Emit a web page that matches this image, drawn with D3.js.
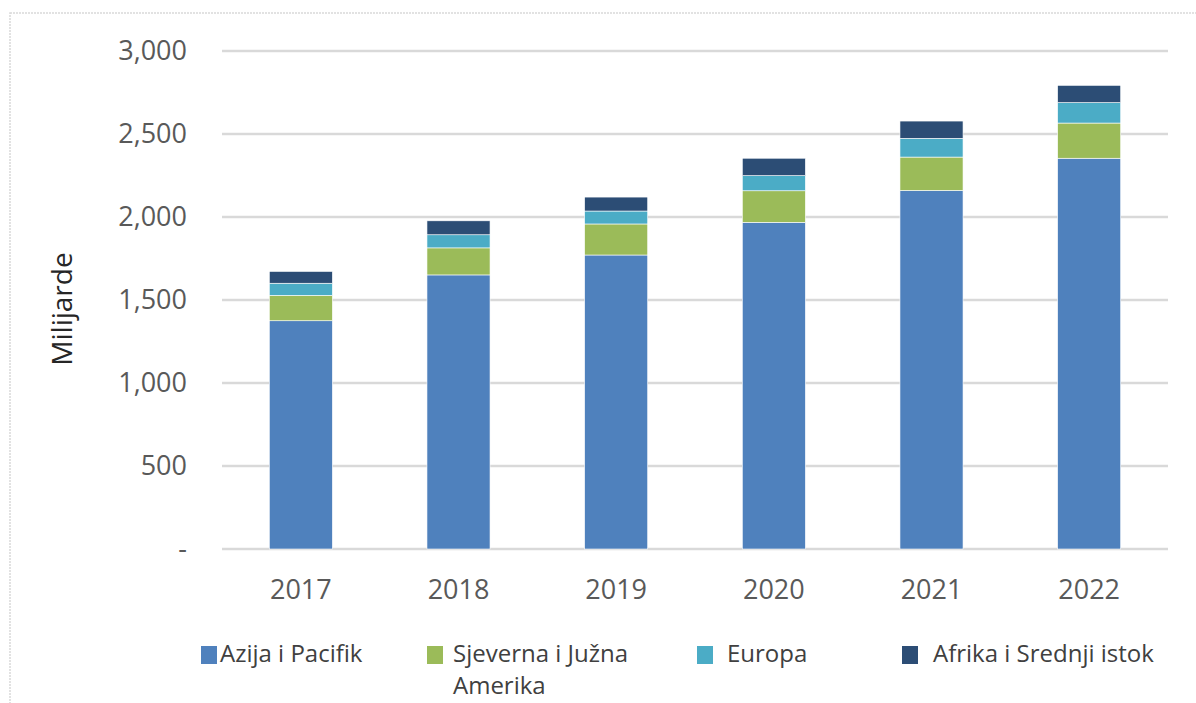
<!DOCTYPE html>
<html>
<head>
<meta charset="utf-8">
<script src="https://cdn.jsdelivr.net/npm/d3@7"></script>
<style>
  body { margin: 0; background: #fff; }
  text { font-family: "Open Sans", "Noto Sans", sans-serif; fill: #595959; }
</style>
</head>
<body>
<div id="chart"></div>
<script>
// data (milijarde)
const years = ["2017", "2018", "2019", "2020", "2021", "2022"];
const seriesNames = ["Azija i Pacifik", "Sjeverna i Južna Amerika", "Europa", "Afrika i Srednji istok"];
const asiaPacific = [1375, 1651, 1771, 1968, 2160, 2354];
const americas = [153, 163, 187, 190, 201, 212];
const europe = [73, 79, 78, 91, 113, 123];
const africaMiddleEast = [71, 84, 84, 105, 104, 104];
const yTicks = [0, 500, 1000, 1500, 2000, 2500, 3000];
const colors = ["#4F81BD", "#9BBB59", "#4BACC6", "#2C4D75"];

const W = 1196, H = 703;
const margin = { top: 51, right: 28, bottom: 154, left: 222 };
const width = W - margin.left - margin.right;
const height = H - margin.top - margin.bottom;

const root = d3.select("#chart").append("svg")
  .attr("width", W)
  .attr("height", H);

// chart frame
root.append("rect")
  .attr("x", 10).attr("y", 13)
  .attr("width", W + 10).attr("height", H + 10)
  .attr("fill", "none")
  .attr("stroke", "#d9d9d9")
  .attr("stroke-width", 1.5)
  .attr("stroke-dasharray", "2,1");

const svg = root.append("g")
  .attr("transform", `translate(${margin.left},${margin.top})`);

const rows = years.map((yr, i) => ({
  year: yr,
  s0: asiaPacific[i], s1: americas[i], s2: europe[i], s3: africaMiddleEast[i]
}));
const stacked = d3.stack().keys(["s0", "s1", "s2", "s3"])(rows);

const x = d3.scaleBand().domain(years).range([0, width]).paddingInner(0.6).paddingOuter(0.3);
const y = d3.scaleLinear().domain([0, 3000]).range([height, 0]);

// gridlines
svg.append("g")
  .selectAll("line")
  .data(yTicks)
  .join("line")
  .attr("x1", 0).attr("x2", width)
  .attr("y1", d => y(d)).attr("y2", d => y(d))
  .attr("stroke", "#d9d9d9")
  .attr("stroke-width", 2.5);

// y axis labels
const yAxis = d3.axisLeft(y)
  .tickValues(yTicks)
  .tickSize(0)
  .tickPadding(35)
  .tickFormat(d => d === 0 ? "-" : d3.format(",")(d));
svg.append("g").call(yAxis)
  .call(g => g.select(".domain").remove())
  .selectAll("text")
  .style("font-size", "27px")
  .attr("fill", "#595959");

// bars
svg.append("g")
  .selectAll("g")
  .data(stacked)
  .join("g")
  .attr("fill", (d, i) => colors[i])
  .selectAll("rect")
  .data(d => d)
  .join("rect")
  .attr("x", d => x(d.data.year))
  .attr("y", d => y(d[1]))
  .attr("width", x.bandwidth())
  .attr("height", d => y(d[0]) - y(d[1]))
  .attr("stroke", "#ffffff")
  .attr("stroke-width", 0.6);

// x axis labels
const xAxis = d3.axisBottom(x).tickSize(0).tickPadding(31);
svg.append("g")
  .attr("transform", `translate(0,${height})`)
  .call(xAxis)
  .call(g => g.select(".domain").remove())
  .selectAll("text")
  .style("font-size", "27px")
  .attr("fill", "#595959");

// y title
root.append("text")
  .attr("transform", `translate(72,${margin.top + height / 2 + 9}) rotate(-90)`)
  .attr("text-anchor", "middle")
  .style("font-size", "28px")
  .style("fill", "#262626")
  .text("Milijarde");

// legend
const legendPos = [201, 427, 697, 902];
const textOffset = [19, 26, 30, 31];
const legend = root.append("g");
seriesNames.forEach((name, i) => {
  const g = legend.append("g").attr("transform", `translate(${legendPos[i]},646)`);
  g.append("rect").attr("width", 16).attr("height", 18).attr("fill", colors[i]);
  const t = g.append("text")
    .attr("x", textOffset[i])
    .attr("y", 16)
    .style("font-size", "24px")
    .style("fill", "#404040");
  if (i === 1) {
    t.append("tspan").text("Sjeverna i Južna");
    t.append("tspan").attr("x", textOffset[i]).attr("dy", 32).text("Amerika");
  } else {
    t.text(name);
  }
});
</script>
</body>
</html>
